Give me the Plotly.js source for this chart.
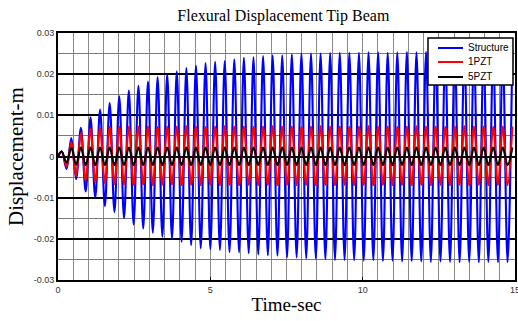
<!DOCTYPE html>
<html>
<head>
<meta charset="utf-8">
<script src="https://cdn.plot.ly/plotly-3.0.1.min.js"></script>
<style>html,body{margin:0;padding:0;background:#fff;}#chart{width:518px;height:321px;}</style>
</head>
<body>
<div id="chart"></div>
<script>
// Turning-point times (s) (start, then alternating peak / trough)
const timeSec = [0,
 0.122,0.279,0.437,0.594,0.751,0.909,1.066,1.223,1.381,1.538,1.696,1.853,2.010,2.168,2.325,2.482,
 2.640,2.797,2.954,3.112,3.269,3.426,3.584,3.741,3.898,4.056,4.213,4.370,4.528,4.685,4.843,5.000,
 5.157,5.315,5.472,5.629,5.787,5.944,6.101,6.259,6.416,6.573,6.731,6.888,7.045,7.203,7.360,7.517,
 7.675,7.832,7.990,8.147,8.304,8.462,8.619,8.776,8.934,9.091,9.248,9.406,9.563,9.720,9.878,10.035,
 10.192,10.350,10.507,10.665,10.822,10.979,11.137,11.294,11.451,11.609,11.766,11.923,12.081,12.238,
 12.395,12.553,12.710,12.867,13.025,13.182,13.339,13.497,13.654,13.812,13.969,14.126,14.284,14.441,
 14.598,14.756,14.913];

const structure = [0,
 0.0012,-0.0030,0.0045,-0.0055,0.0070,-0.0085,0.0095,-0.0100,0.0114,-0.0120,0.0130,-0.0135,
 0.0146,-0.0150,0.0160,-0.0165,0.0172,-0.0175,0.0182,-0.0185,0.0193,-0.0195,0.0200,-0.0200,
 0.0207,-0.0207,0.0215,-0.0215,0.0221,-0.0223,0.0227,-0.0225,0.0230,-0.0227,0.0232,-0.0232,
 0.0236,-0.0233,0.0240,-0.0235,0.0241,-0.0238,0.0244,-0.0240,0.0246,-0.0241,0.0246,-0.0245,
 0.0248,-0.0245,0.0250,-0.0247,0.0250,-0.0248,0.0250,-0.0249,0.0251,-0.0251,0.0252,-0.0251,
 0.0252,-0.0252,0.0252,-0.0253,0.0253,-0.0252,0.0253,-0.0254,0.0252,-0.0253,0.0253,-0.0255,
 0.0254,-0.0254,0.0253,-0.0255,0.0254,-0.0256,0.0254,-0.0255,0.0255,-0.0256,0.0254,-0.0257,
 0.0255,-0.0256,0.0255,-0.0257,0.0255,-0.0256,0.0256,-0.0257,0.0255,-0.0257,0.0256];

const pzt1 = [0,
 0.0012,-0.0025,0.0035,-0.0048,0.0057,-0.0058,0.0067,-0.0062,0.0070,-0.0065,0.0072,-0.0067,
 0.0073,-0.0068,0.0072,-0.0069,0.0073,-0.0068,0.0073,-0.0070,0.0072,-0.0069,0.0073,-0.0068,
 0.0073,-0.0070,0.0074,-0.0069,0.0073,-0.0070,0.0072,-0.0069,0.0073,-0.0070,0.0074,-0.0069,
 0.0073,-0.0070,0.0073,-0.0069,0.0072,-0.0070,0.0073,-0.0069,0.0074,-0.0070,0.0073,-0.0069,
 0.0073,-0.0070,0.0072,-0.0069,0.0073,-0.0070,0.0074,-0.0069,0.0073,-0.0070,0.0073,-0.0069,
 0.0072,-0.0070,0.0073,-0.0069,0.0074,-0.0070,0.0073,-0.0069,0.0073,-0.0070,0.0072,-0.0069,
 0.0073,-0.0070,0.0074,-0.0069,0.0073,-0.0070,0.0073,-0.0069,0.0072,-0.0070,0.0073,-0.0069,
 0.0074,-0.0070,0.0073,-0.0069,0.0073,-0.0070,0.0072,-0.0069,0.0073,-0.0070,0.0073];

const pzt5 = [0,
 0.0012,-0.0015,0.0021,-0.0020,0.0022,-0.0021,0.0022,-0.0021,0.0022,-0.0021,0.0022,-0.0021,
 0.0022,-0.0021,0.0022,-0.0021,0.0022,-0.0021,0.0022,-0.0021,0.0022,-0.0021,0.0022,-0.0021,
 0.0022,-0.0021,0.0022,-0.0021,0.0022,-0.0021,0.0022,-0.0021,0.0022,-0.0021,0.0022,-0.0021,
 0.0022,-0.0021,0.0022,-0.0021,0.0022,-0.0021,0.0022,-0.0021,0.0022,-0.0021,0.0022,-0.0021,
 0.0022,-0.0021,0.0022,-0.0021,0.0022,-0.0021,0.0022,-0.0021,0.0022,-0.0021,0.0022,-0.0021,
 0.0022,-0.0021,0.0022,-0.0021,0.0022,-0.0021,0.0022,-0.0021,0.0022,-0.0021,0.0022,-0.0021,
 0.0022,-0.0021,0.0022,-0.0021,0.0022,-0.0021,0.0022,-0.0021,0.0022,-0.0021,0.0022,-0.0021,
 0.0022,-0.0021,0.0022,-0.0021,0.0022,-0.0021,0.0022,-0.0021,0.0022,-0.0021,0.0022];

const seriesNames = ['Structure', '1PZT', '5PZT'];
const seriesColors = ['#0000ff', '#ff0000', '#000000'];
const xTicks = [0, 5, 10, 15];
const yTicks = [-0.03, -0.02, -0.01, 0, 0.01, 0.02, 0.03];
const yTickText = ['-0.03', '-0.02', '-0.01', '0', '0.01', '0.02', '0.03'];

const seriesY = [structure, pzt1, pzt5];
const data = seriesY.map((y, i) => ({
  x: timeSec, y: y, name: seriesNames[i], type: 'scatter', mode: 'lines',
  line: {color: seriesColors[i], width: 2.1, shape: 'spline', smoothing: 1}
}));

// compact legend box (paper coordinates), drawn like the original MATLAB legend
const legBox = {x0: 0.8096, x1: 0.9956, y0: 0.7895, y1: 0.9798};
const legRows = [0.9393, 0.8826, 0.8219];
const shapes = [{type: 'rect', xref: 'paper', yref: 'paper', x0: legBox.x0, x1: legBox.x1, y0: legBox.y0, y1: legBox.y1,
  fillcolor: '#fff', line: {color: '#000', width: 1.5}, layer: 'above'}];
const annotations = [];
seriesNames.forEach((n, i) => {
  shapes.push({type: 'line', xref: 'paper', yref: 'paper', x0: 0.8315, x1: 0.8862, y0: legRows[i], y1: legRows[i],
    line: {color: seriesColors[i], width: 2}, layer: 'above'});
  annotations.push({xref: 'paper', yref: 'paper', x: 0.893, y: legRows[i], xanchor: 'left', yanchor: 'middle',
    text: n, showarrow: false, font: {family: 'Liberation Sans, Arial, sans-serif', size: 10, color: '#000'}});
});

const layout = {
  width: 518, height: 321,
  margin: {l: 58, r: 3, t: 33, b: 41},
  paper_bgcolor: '#fff', plot_bgcolor: '#fff',
  showlegend: false,
  shapes: shapes, annotations: annotations,
  title: {text: 'Flexural Displacement Tip Beam', font: {family: 'Liberation Serif, Times New Roman, serif', size: 16, color: '#000'}, x: 0.547, xanchor: 'center', y: 0.953, yanchor: 'middle'},
  xaxis: {
    range: [0, 15], tickvals: xTicks, ticktext: xTicks.map(String),
    showline: true, mirror: true, linecolor: '#000', linewidth: 2,
    ticks: 'inside', ticklen: 3, tickcolor: '#000',
    ticklabeloverflow: 'allow',
    showgrid: true, gridcolor: '#8a8a8a', gridwidth: 1,
    minor: {dtick: 0.5, showgrid: true, gridcolor: '#8a8a8a', gridwidth: 1},
    zeroline: false,
    tickfont: {family: 'Liberation Sans, Arial, sans-serif', size: 9, color: '#333'},
    title: {text: 'Time-sec', font: {family: 'Liberation Serif, Times New Roman, serif', size: 19, color: '#000'}, standoff: 4}
  },
  yaxis: {
    range: [-0.03, 0.03], tickvals: yTicks, ticktext: yTickText,
    showline: true, mirror: true, linecolor: '#000', linewidth: 2,
    ticks: '', showgrid: true, gridcolor: '#000', gridwidth: 2,
    minor: {dtick: 0.005, showgrid: true, gridcolor: '#7a7a7a', gridwidth: 1},
    zeroline: true, zerolinecolor: '#000', zerolinewidth: 2,
    tickfont: {family: 'Liberation Sans, Arial, sans-serif', size: 9, color: '#333'},
    title: {text: 'Displacement-m', font: {family: 'Liberation Serif, Times New Roman, serif', size: 21, color: '#000'}, standoff: 4}
  }
};

Plotly.newPlot('chart', data, layout, {displayModeBar: false, staticPlot: true});
</script>
</body>
</html>
